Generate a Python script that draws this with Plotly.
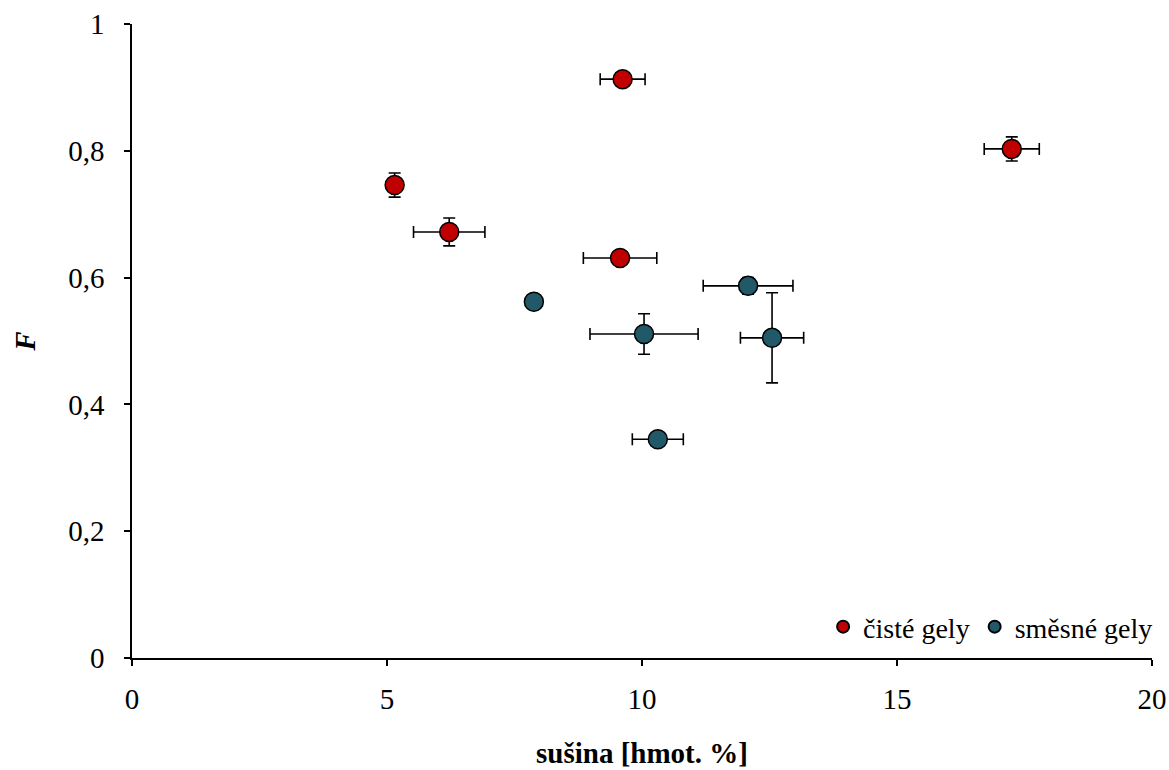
import plotly.graph_objects as go

# čisté gely
cx = [5.15, 6.22, 9.62, 9.57, 17.25]
cy = [0.746, 0.672, 0.913, 0.631, 0.803]
cx_err = [0.0, 0.70, 0.44, 0.72, 0.54]
cy_err = [0.019, 0.022, 0.0, 0.0, 0.019]

# směsné gely
sx = [7.88, 10.04, 12.08, 12.55, 10.31]
sy = [0.562, 0.511, 0.587, 0.505, 0.345]
sx_err = [0.0, 1.06, 0.88, 0.62, 0.50]
sy_err = [0.0, 0.032, 0.013, 0.071, 0.0]

red = "#C00000"
blue = "#215968"
font = "Liberation Serif"
fs = 29

fig = go.Figure()

def add(x, y, xe, ye, color, name):
    fig.add_trace(go.Scatter(
        x=x, y=y, mode="markers", name=name,
        marker=dict(size=19, color=color, line=dict(color="black", width=1.5)),
        error_x=dict(type="data", array=xe, visible=True, color="black", thickness=1.6, width=6),
        error_y=dict(type="data", array=ye, visible=True, color="black", thickness=1.6, width=6),
    ))

add(cx, cy, cx_err, cy_err, red, "čisté gely")
add(sx, sy, sx_err, sy_err, blue, "směsné gely")

fig.update_layout(
    width=1169, height=770,
    margin=dict(l=132, r=17, t=24, b=112, autoexpand=False),
    plot_bgcolor="white", paper_bgcolor="white",
    separators=", ",
    font=dict(family=font, size=fs, color="black"),
    showlegend=True,
    legend=dict(orientation="h", x=1.006, xanchor="right", y=0.049, yanchor="middle",
                font=dict(family=font, size=28, color="black"),
                itemsizing="constant", itemwidth=30, tracegroupgap=0,
                bgcolor="rgba(0,0,0,0)"),
)
fig.add_annotation(
    text="<b>sušina [hmot. %]</b>", xref="paper", yref="paper",
    x=0.5, y=-0.15, xanchor="center", yanchor="middle", showarrow=False,
    font=dict(family=font, size=fs, color="black"),
)
fig.update_xaxes(
    range=[0, 20], tickvals=[0, 5, 10, 15, 20], automargin=False,
    showgrid=False, zeroline=False, showline=True, linecolor="black", linewidth=1.5,
    ticks="outside", ticklen=6, tickwidth=1.5, tickcolor="black",
    ticklabelstandoff=8,
    tickfont=dict(family=font, size=fs, color="black"),
)
fig.update_yaxes(
    range=[0, 1], tickvals=[0, 0.2, 0.4, 0.6, 0.8, 1], automargin=False,
    showgrid=False, zeroline=False, showline=True, linecolor="black", linewidth=1.5,
    ticks="outside", ticklen=6, tickwidth=1.5, tickcolor="black",
    ticklabelstandoff=14,
    tickfont=dict(family=font, size=fs, color="black"),
    title=dict(text="<b><i>F</i></b>", font=dict(family=font, size=fs, color="black"), standoff=24),
)

fig.write_html("out.html")
